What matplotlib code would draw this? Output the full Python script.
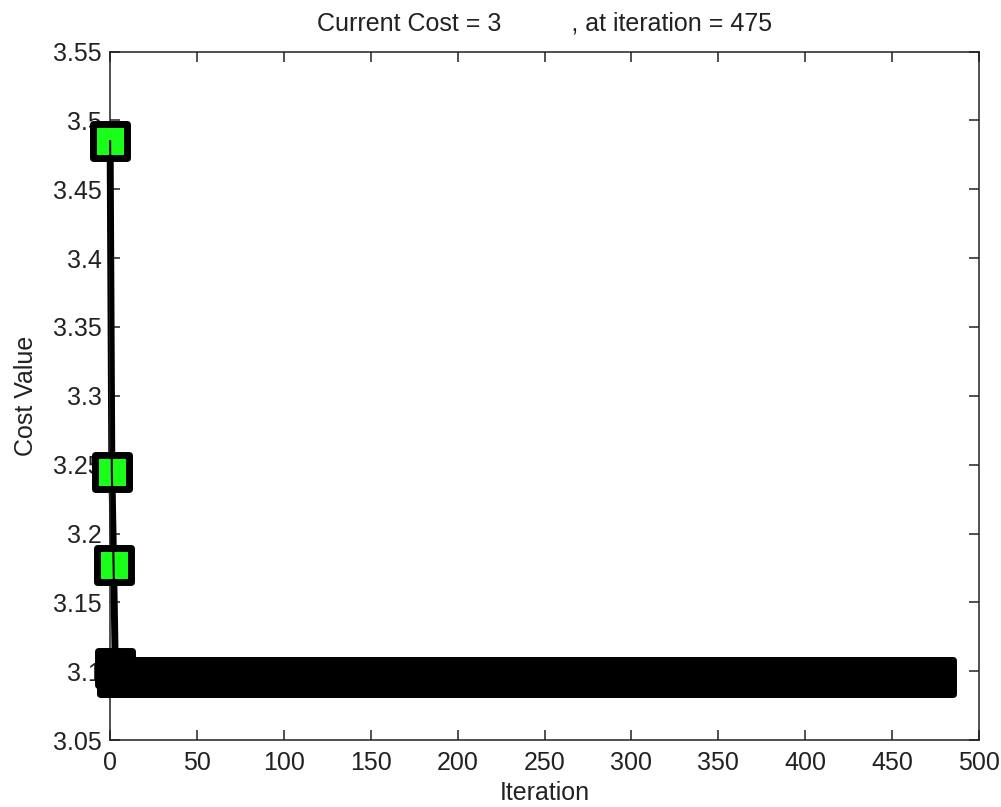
import matplotlib
matplotlib.use("Agg")
import matplotlib.pyplot as plt
from matplotlib.markers import MarkerStyle

plt.rcParams['font.family'] = ['Liberation Sans', 'DejaVu Sans']

# data
head_iters = [0, 1, 2, 3]
head_cost = [3.485, 3.245, 3.177, 3.102]
plateau_cost = 3.096
last_iter = 475
green_idx = [0, 1, 2]          # points drawn with green square markers

x_ticks = [0, 50, 100, 150, 200, 250, 300, 350, 400, 450, 500]
y_ticks = [3.05, 3.1, 3.15, 3.2, 3.25, 3.3, 3.35, 3.4, 3.45, 3.5, 3.55]
y_ticklabels = ["3.05", "3.1", "3.15", "3.2", "3.25", "3.3", "3.35", "3.4", "3.45", "3.5", "3.55"]

iters = head_iters + list(range(head_iters[-1] + 1, last_iter + 1))
cost = head_cost + [plateau_cost] * (last_iter - head_iters[-1])

fig = plt.figure(figsize=(10.01, 8.07), dpi=100)
ax = fig.add_axes([0.110, 0.083, 0.868, 0.853])

sq = MarkerStyle('s', joinstyle='round')

# thick line + black squares (the solid band)
ax.plot(iters, cost, color='black', linewidth=5, zorder=2, clip_on=False)
ax.plot(iters[3:], cost[3:], linestyle='none', marker=sq, markersize=23.8,
        markerfacecolor='black', markeredgecolor='black', markeredgewidth=5,
        zorder=3, clip_on=False)
# green squares for first points
gx = [iters[i] for i in green_idx]
gy = [cost[i] for i in green_idx]
ax.plot(gx, gy, linestyle='none', marker=sq, markersize=23.8,
        markerfacecolor='#1aff1a', markeredgecolor='black', markeredgewidth=5,
        zorder=4, clip_on=False)
# thin line through markers
ax.plot(iters, cost, color='black', linewidth=1.5, zorder=5, clip_on=False)

ax.set_xlim(0, 500)
ax.set_ylim(3.05, 3.55)
ax.set_xticks(x_ticks)
ax.set_yticks(y_ticks)
ax.set_yticklabels(y_ticklabels)
ax.tick_params(direction='in', length=7, width=1.1, top=True, right=True,
               labelsize=18, colors='#222222', pad=6)
ax.tick_params(axis='x', pad=8)
for s in ax.spines.values():
    s.set_linewidth(1.1)
    s.set_color('#222222')

ax.set_title("Current Cost = 3          , at iteration = 475", fontsize=18,
             color='#222222', pad=15)
ax.set_xlabel("Iteration", fontsize=18, color='#222222', labelpad=4)
ax.set_ylabel("Cost Value", fontsize=18, color='#222222', labelpad=11)

fig.savefig("out.png", dpi=100, facecolor='white')
